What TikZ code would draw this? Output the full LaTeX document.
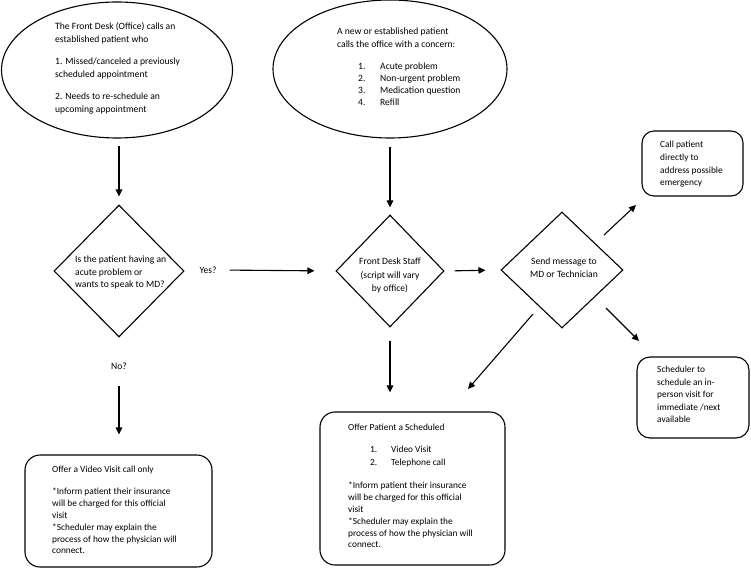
\documentclass[tikz,border=0pt]{standalone}
\usepackage{fontspec}
\setmainfont{Carlito}
\usetikzlibrary{shapes.geometric,arrows.meta}
\begin{document}
\begin{tikzpicture}[x=1pt,y=-1pt,
  shp/.style={draw=black,line width=1.1pt,inner sep=0pt},
  ell/.style={shp,ellipse},
  dia/.style={shp,diamond},
  rbox/.style={shp,rectangle,rounded corners=15pt},
  txt/.style={inner sep=0pt,anchor=north west,align=left,font=\fontsize{9.6}{#1}\selectfont},
  txt/.default=13,
  btxt/.style={inner sep=0pt,anchor=north west,align=left,font=\fontsize{9.35}{#1}\selectfont},
  btxt/.default=13,
  ctxt/.style={inner sep=0pt,anchor=north,align=center,font=\fontsize{9.6}{#1}\selectfont},
  lbl/.style={inner sep=0pt,font=\fontsize{9.6}{11}\selectfont},
  arr/.style={line width=1.1pt,-{Triangle[length=7pt,width=6.5pt]}}
]
\useasboundingbox (0,0) rectangle (751,569);

% shapes
\node[ell,minimum width=231pt,minimum height=136pt] (e1) at (117,70) {};
\node[ell,minimum width=234pt,minimum height=138pt] (e2) at (390,69) {};
\node[dia,minimum width=130pt,minimum height=132pt] (d1) at (119,271) {};
\node[dia,minimum width=108pt,minimum height=112pt] (d2) at (390,271) {};
\node[dia,minimum width=122pt,minimum height=116pt] (d3) at (562,270) {};
\node[rbox,minimum width=187pt,minimum height=112pt] (b1) at (118.5,511) {};
\node[rbox,minimum width=185pt,minimum height=153pt] (b2) at (412.5,488.5) {};
\node[rbox,rounded corners=12pt,minimum width=101pt,minimum height=65pt] (b3) at (692.5,163.5) {};
\node[rbox,rounded corners=13pt,minimum width=112pt,minimum height=81pt] (b4) at (693,397.5) {};

% texts
\node[txt] (t1) at (55,22) {The Front Desk (Office) calls an\\established patient who\\[9pt]1. Missed/canceled a previously\\scheduled appointment\\[9pt]2. Needs to re-schedule an\\upcoming appointment};
\node[txt] (t2) at (337,28) {A new or established patient\\calls the office with a concern:};
\node[txt=12] (t2l) at (358,63) {\makebox[22pt][l]{1.}Acute problem\\\makebox[22pt][l]{2.}Non-urgent problem\\\makebox[22pt][l]{3.}Medication question\\\makebox[22pt][l]{4.}Refill};
\node[txt=12.5] (td1) at (75,256) {Is the patient having an\\acute problem or\\wants to speak to MD?};
\node[ctxt=13.5] (td2) at (390,258) {Front Desk Staff\\(script will vary\\by office)};
\node[ctxt=13] (td3) at (564,258) {Send message to\\MD or Technician};
\node[lbl] (yes) at (208,270) {Yes?};
\node[lbl] (no) at (119,366) {No?};
\node[btxt=12.7] (tb3) at (660,141) {Call patient\\directly to\\address possible\\emergency};
\node[btxt=12.5] (tb4) at (657,366) {Scheduler to\\schedule an in-\\person visit for\\immediate /next\\available};
\node[btxt] (tb1a) at (52,466) {Offer a Video Visit call only};
\node[btxt=11.8] (tb1b) at (52,488) {*Inform patient their insurance\\will be charged for this official\\visit\\*Scheduler may explain the\\process of how the physician will\\connect.};
\node[btxt] (tb2a) at (348,424) {Offer Patient a Scheduled};
\node[btxt=13] (tb2l) at (370,446) {\makebox[21pt][l]{1.}Video Visit\\\makebox[21pt][l]{2.}Telephone call};
\node[btxt=11.8] (tb2b) at (348,482) {*Inform patient their insurance\\will be charged for this official\\visit\\*Scheduler may explain the\\process of how the physician will\\connect.};

% connector end points
\coordinate (c1s) at (604,235);
\coordinate (c1e) at (636,205);
\coordinate (c2s) at (606,308);
\coordinate (c2e) at (639,341);
\coordinate (c3s) at (533,314);
\coordinate (c3e) at (468,389);

% connectors
\draw[arr,shorten <=7pt,shorten >=8pt] (e1.south -| d1.north) -- (d1.north);
\draw[arr,shorten <=13pt,shorten >=21pt] (yes.east) -- (d2.west);
\draw[arr,shorten <=16pt,shorten >=20pt] (no.south) -- (no.south |- b1.north);
\draw[arr,shorten <=8pt,shorten >=7pt] (e2.south) -- (d2.north);
\draw[arr,shorten <=13pt,shorten >=19pt] (d2.south) -- (d2.south |- b2.north);
\draw[arr,shorten <=10pt,shorten >=15pt] (d2.east) -- (d3.west);
\draw[arr] (c1s) -- (c1e);
\draw[arr] (c2s) -- (c2e);
\draw[arr] (c3s) -- (c3e);
\end{tikzpicture}
\end{document}
